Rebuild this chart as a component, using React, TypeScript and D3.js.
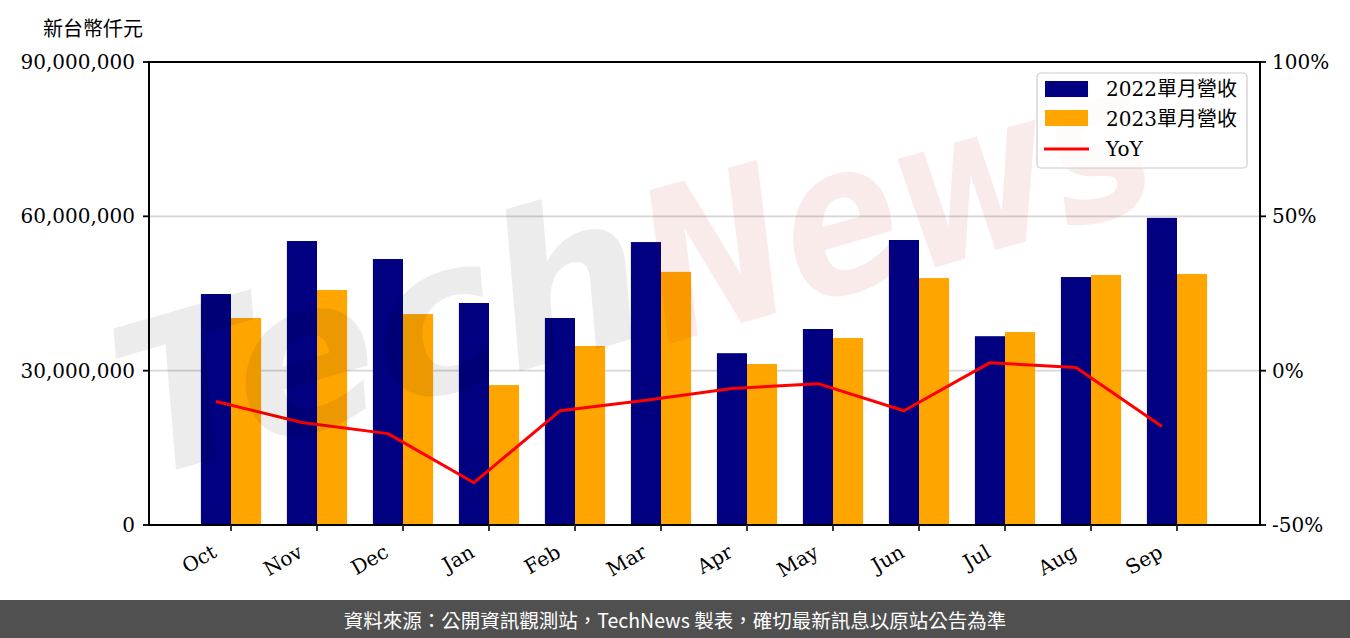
import React from "react";
import * as d3 from "d3";

const months = ["Oct", "Nov", "Dec", "Jan", "Feb", "Mar", "Apr", "May", "Jun", "Jul", "Aug", "Sep"];
const rev2022 = [44.9e6, 55.2e6, 51.7e6, 43.15e6, 40.24e6, 55.0e6, 33.4e6, 38.1e6, 55.4e6, 36.7e6, 48.2e6, 59.7e6];
const rev2023 = [40.24e6, 45.68e6, 41.0e6, 27.2e6, 34.8e6, 49.2e6, 31.3e6, 36.35e6, 48.0e6, 37.5e6, 48.6e6, 48.8e6];
const yoy = [-10.0, -16.8, -20.4, -36.3, -13.0, -9.6, -5.8, -4.2, -13.0, 2.6, 1.0, -18.1];
const leftTicks = [0, 30e6, 60e6, 90e6];
const rightTicks = [-50, 0, 50, 100];
const legendLabels = ["2022單月營收", "2023單月營收", "YoY"];

const W = 1350;
const H = 638;
const L = 149, R = 1260, T = 62, B = 525;
const serif = "'DejaVu Serif', 'Noto Sans CJK TC', serif";
const cjk = "'Noto Sans CJK TC', sans-serif";

export default function App() {
  const x = d3.scaleLinear().domain([-0.9535, 11.965]).range([L, R]);
  const y = d3.scaleLinear().domain([0, 90e6]).range([B, T]);
  const yr = d3.scaleLinear().domain([-50, 100]).range([B, T]);
  const w = 0.35;
  const fmt = d3.format(",");
  const line = d3
    .line<number>()
    .x((_, i) => x(i - w / 2))
    .y((d) => yr(d));

  return (
    <svg width={W} height={H} style={{ position: "absolute", left: 0, top: 0, background: "#fff" }}>
      <rect x={0} y={0} width={W} height={H} fill="#fff" />
      {/* grid */}
      {leftTicks
        .filter((t) => t > 0 && t < 90e6)
        .map((t) => (
          <line key={t} x1={L} x2={R} y1={y(t)} y2={y(t)} stroke="#d6d6d6" strokeWidth={1.6} />
        ))}
      {/* bars */}
      {rev2022.map((v, i) => (
        <rect key={"a" + i} x={x(i - w)} width={x(i) - x(i - w)} y={y(v)} height={y(0) - y(v)} fill="#000080" />
      ))}
      {rev2023.map((v, i) => (
        <rect key={"b" + i} x={x(i)} width={x(i + w) - x(i)} y={y(v)} height={y(0) - y(v)} fill="#FFA500" />
      ))}
      <path d={line(yoy) || ""} fill="none" stroke="#FF0000" strokeWidth={3} strokeLinejoin="round" />
      {/* watermark */}
      <g>
        <text
          x={0}
          y={0}
          transform="translate(140,480) rotate(-16)"
          fontFamily="'DejaVu Sans', sans-serif"
          fontStyle="italic"
          fontWeight={700}
          fontSize={210}
          textLength={540}
          lengthAdjust="spacingAndGlyphs"
          fill="#000"
          fillOpacity={0.075}
        >
          Tech
        </text>
        <text
          x={0}
          y={0}
          transform="translate(665,345) rotate(-16)"
          fontFamily="'DejaVu Sans', sans-serif"
          fontStyle="italic"
          fontWeight={700}
          fontSize={210}
          textLength={520}
          lengthAdjust="spacingAndGlyphs"
          fill="#c00000"
          fillOpacity={0.08}
        >
          News
        </text>
      </g>
      {/* spines */}
      <rect x={L} y={T} width={R - L} height={B - T} fill="none" stroke="#000" strokeWidth={2} />
      {/* left ticks */}
      {leftTicks.map((t) => (
        <g key={t}>
          <line x1={L - 6} x2={L} y1={y(t)} y2={y(t)} stroke="#000" strokeWidth={1.8} />
          <text x={135} y={y(t)} textAnchor="end" dominantBaseline="central" fontFamily={serif} fontSize={20} fill="#000">
            {fmt(t)}
          </text>
        </g>
      ))}
      {/* right ticks */}
      {rightTicks.map((t) => (
        <g key={t}>
          <line x1={R} x2={R + 6} y1={yr(t)} y2={yr(t)} stroke="#000" strokeWidth={1.8} />
          <text x={1272} y={yr(t)} textAnchor="start" dominantBaseline="central" fontFamily={serif} fontSize={20} fill="#000">
            {t + "%"}
          </text>
        </g>
      ))}
      {/* x ticks */}
      {months.map((m, i) => (
        <g key={m}>
          <line x1={x(i)} x2={x(i)} y1={B} y2={B + 6} stroke="#222" strokeWidth={1.8} />
          <text
            x={0}
            y={0}
            transform={`translate(${x(i) - 13},556) rotate(-30)`}
            textAnchor="end"
            fontFamily={serif}
            fontSize={20}
            fill="#000"
          >
            {m}
          </text>
        </g>
      ))}
      {/* y title */}
      <text x={43} y={27} dominantBaseline="central" fontFamily={cjk} fontSize={20} fill="#000">
        新台幣仟元
      </text>
      {/* legend */}
      <rect x={1037} y={73} width={210} height={95} rx={4} fill="#fff" fillOpacity={0.8} stroke="#cccccc" strokeWidth={1.2} />
      <rect x={1045} y={81} width={43} height={16} fill="#000080" />
      <rect x={1045} y={110} width={43} height={16} fill="#FFA500" />
      <line x1={1044} x2={1089} y1={149} y2={149} stroke="#FF0000" strokeWidth={3} />
      {legendLabels.map((s, i) => (
        <text key={s} x={1106} y={89 + i * 30} dominantBaseline="central" fontFamily={serif} fontSize={20} fill="#000">
          {s}
        </text>
      ))}
      {/* footer */}
      <rect x={0} y={600} width={W} height={38} fill="#505050" />
      <text x={W / 2} y={619} textAnchor="middle" dominantBaseline="central" fontFamily={cjk} fontSize={19.5} fill="#fff">
        資料來源：公開資訊觀測站，TechNews 製表，確切最新訊息以原站公告為準
      </text>
    </svg>
  );
}
